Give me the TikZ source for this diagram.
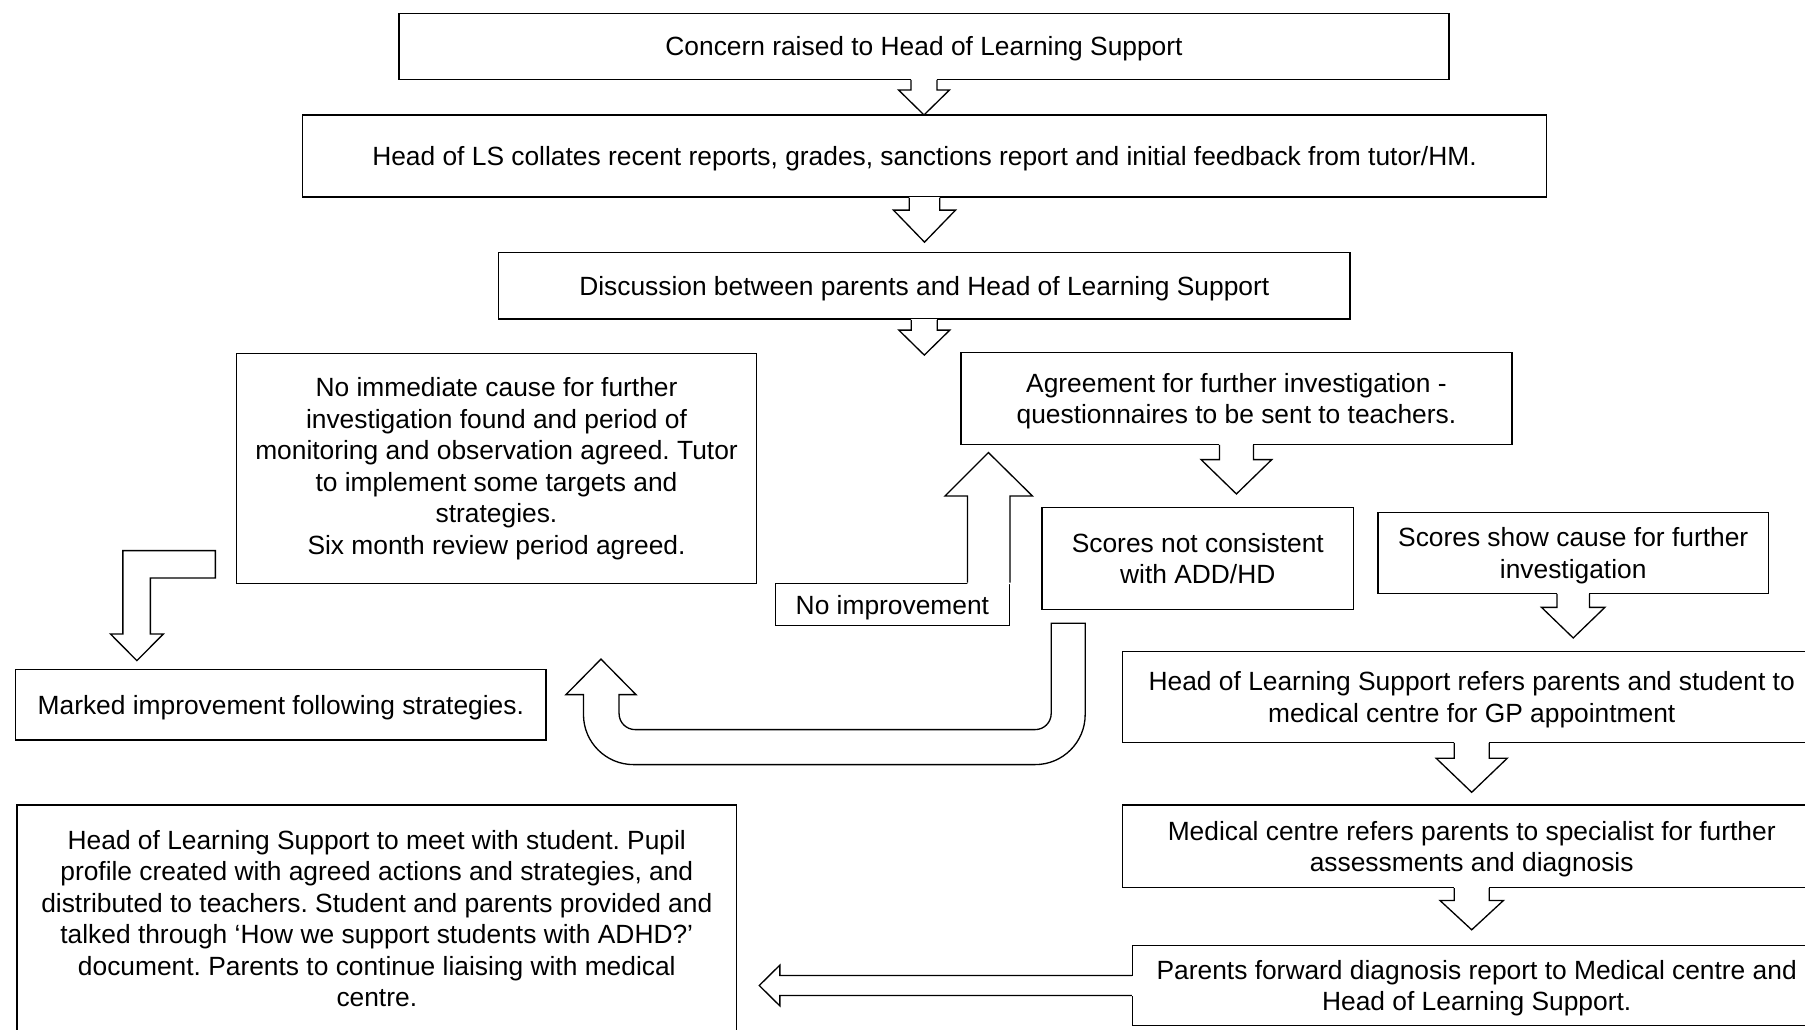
\documentclass[tikz,border=0pt]{standalone}
\usepackage{fontspec}
\setmainfont{Liberation Sans}
\usetikzlibrary{calc}
\frenchspacing

\tikzset{
  box/.style={draw, line width=0.75pt, fill=white, align=center, inner sep=0pt,
    text depth=0pt, font=\fontsize{15}{17.9}\selectfont},
  blk/.style={line width=0.75pt, line join=miter},
}

% start, shaft half width, shaft length, head half width, head length
\newcommand{\blkdown}[5]{%
  \fill[white] #1 ++(-#2,-1) rectangle ++({2*#2},{#3+1});
  \draw[blk] #1 ++(-#2,0) -- ++(0,#3) -- ++({#2-#4},0) -- ++(#4,#5)
    -- ++(#4,-#5) -- ++({#2-#4},0) -- ++(0,-#3);
}
\newcommand{\blkleft}[5]{%
  \fill[white] #1 ++(1,-#2) rectangle ++({-#3-1},{2*#2});
  \draw[blk] #1 ++(0,-#2) -- ++(-#3,0) -- ++(0,{#2-#4}) -- ++(-#5,#4)
    -- ++(#5,#4) -- ++(0,{#2-#4}) -- ++(#3,0);
}

\begin{document}
\begin{tikzpicture}[x=0.02cm, y=-0.02cm]
    \clip (0,0) rectangle (1805,1030);

    \node[box, minimum width=21cm, minimum height=1.32cm] (concern) at (924,46.3)
      {Concern raised to Head of Learning Support};
    \node[box, minimum width=24.88cm, minimum height=1.64cm] (collate) at (924.5,156)
      {Head of LS collates recent reports, grades, sanctions report and initial feedback from tutor/HM.};
    \node[box, minimum width=17.03cm, minimum height=1.334cm] (discuss) at (924.3,285.8)
      {Discussion between parents and Head of Learning Support};
    \node[box, minimum width=10.4cm, minimum height=4.6cm, text depth=2.6pt] (nocause) at (496.5,468.3)
      {No immediate cause for further\\investigation found and period of\\monitoring and observation agreed. Tutor\\to implement some targets and\\strategies.\\Six month review period agreed.};
    \node[box, minimum width=11.02cm, minimum height=1.84cm] (agree) at (1236.4,398.3)
      {Agreement for further investigation -\\questionnaires to be sent to teachers.};
    \node[box, minimum width=6.24cm, minimum height=2.03cm] (notcons) at (1197.8,558.5)
      {Scores not consistent\\with ADD/HD};
    \node[box, minimum width=7.81cm, minimum height=1.62cm] (showcause) at (1573.2,552.8)
      {Scores show cause for further\\investigation};
    \node[box, minimum width=4.68cm, minimum height=0.85cm] (noimp) at (892.4,604.5)
      {No improvement};
    \node[box, minimum width=13.97cm, minimum height=1.81cm] (gp) at (1471.7,697)
      {Head of Learning Support refers parents and student to\\medical centre for GP appointment};
    \node[box, minimum width=13.97cm, minimum height=1.65cm] (spec) at (1471.7,846.3)
      {Medical centre refers parents to specialist for further\\assessments and diagnosis};
    \node[box, minimum width=13.77cm, minimum height=1.61cm] (report) at (1476.7,985.5)
      {Parents forward diagnosis report to Medical centre and\\Head of Learning Support.};
    \node[box, minimum width=10.61cm, minimum height=1.41cm] (marked) at (280.8,704.7)
      {Marked improvement following strategies.};
    \node[box, minimum width=14.4cm, minimum height=4.54cm] (meet) at (376.8,918.5)
      {Head of Learning Support to meet with student. Pupil\\profile created with agreed actions and strategies, and\\distributed to teachers. Student and parents provided and\\talked through ‘How we support students with ADHD?’\\document. Parents to continue liaising with medical\\centre.};

    \blkdown{(concern.south)}{13}{10}{25.5}{25}
    \blkdown{(collate.south)}{15.3}{12.5}{31}{32}
    \blkdown{(discuss.south)}{13}{10.3}{25.5}{25}
    \blkdown{(agree.south)}{17}{14.7}{35.3}{34.3}
    \blkdown{(showcause.south)}{16.2}{13.4}{31.7}{30.6}
    \blkdown{(gp.south)}{17.5}{15.4}{35.5}{34}
    \blkdown{(spec.south)}{17.5}{12.3}{31.7}{29.3}
    \blkleft{(report.west)}{10}{352}{20.4}{20.6}

    \fill[white] ($(noimp.north east)+(-42.6,1.5)$) -- ++(0,-88.1) -- ++(-22.4,0)
      -- ++(43.4,-43.4) -- ++(44,43.4) -- ++(-22.4,0) -- ++(0,88.1) -- cycle;
    \draw[blk] ($(noimp.north east)+(-42.6,0)$) -- ++(0,-86.6) -- ++(-22.4,0)
      -- ++(43.4,-43.4) -- ++(44,43.4) -- ++(-22.4,0) -- (noimp.north east);

    \filldraw[blk, fill=white] ($(nocause.south west)+(-20.5,-33.3)$) -- ++(0,27.3)
      -- ++(-65,0) -- ++(0,56) -- ++(13,0) -- ++(-26.5,26.7) -- ++(-26.5,-26.7)
      -- ++(12.5,0) -- ++(0,-83.3) -- cycle;

    \filldraw[blk, fill=white] ($(notcons.south west)+(10,13.4)$) -- ++(34,0) -- ++(0,91.3)
      arc[start angle=0, end angle=90, radius=50] -- ++(-401.7,0)
      arc[start angle=90, end angle=180, radius=50] -- ++(0,-20) -- ++(-17.5,0)
      -- ++(35,-35.5) -- ++(35,35.5) -- ++(-16.9,0) -- ++(0,19)
      arc[start angle=180, end angle=90, radius=16] -- ++(400.1,0)
      arc[start angle=90, end angle=0, radius=16] -- cycle;
\end{tikzpicture}
\end{document}
